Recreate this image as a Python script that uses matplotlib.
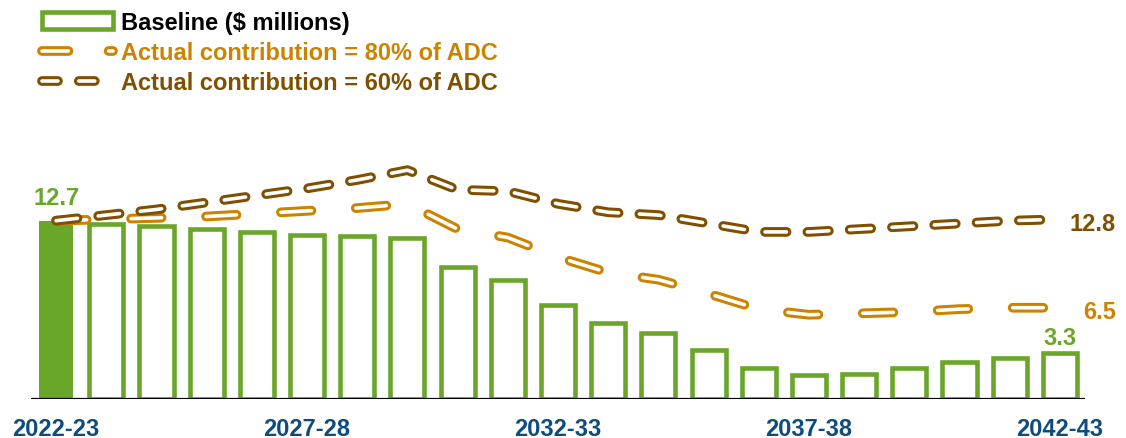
import matplotlib
matplotlib.use("Agg")
import matplotlib.pyplot as plt
from matplotlib.lines import Line2D
from matplotlib.patches import Rectangle

plt.rcParams['lines.scale_dashes'] = False
plt.rcParams['font.family'] = ['Liberation Sans', 'DejaVu Sans']

# ---------------- data ----------------
years = ['2022-23', '2023-24', '2024-25', '2025-26', '2026-27', '2027-28', '2028-29',
         '2029-30', '2030-31', '2031-32', '2032-33', '2033-34', '2034-35', '2035-36',
         '2036-37', '2037-38', '2038-39', '2039-40', '2040-41', '2041-42', '2042-43']
baseline = [12.7, 12.5, 12.3, 12.1, 11.9, 11.7, 11.6, 11.5, 9.4, 8.5, 6.7, 5.4, 4.7,
            3.5, 2.2, 1.7, 1.8, 2.2, 2.6, 2.9, 3.3]
pct80 = [12.7, 12.8, 12.9, 13.0, 13.2, 13.4, 13.6, 13.9, 12.1, 11.5, 10.1, 9.0, 8.5,
         7.5, 6.4, 6.0, 6.1, 6.2, 6.4, 6.5, 6.5]
pct60 = [12.7, 13.1, 13.5, 14.0, 14.5, 15.0, 15.6, 16.3, 14.9, 14.8, 13.9, 13.3, 13.1,
         12.5, 11.9, 11.9, 12.1, 12.3, 12.5, 12.7, 12.8]
tick_years = ['2022-23', '2027-28', '2032-33', '2037-38', '2042-43']
labels = ['Baseline ($ millions)', 'Actual contribution = 80% of ADC',
          'Actual contribution = 60% of ADC']

GREEN = '#6AA629'
ORANGE = '#CC8400'
BROWN = '#7F5000'
BLUE = '#0F4C7E'
FS = 17

W_OUT = 7.0   # outer stroke (pt)
W_IN = 2.6    # inner white stroke (pt)
DASH80 = (0, (22, 32))
DASH60 = (0, (15.5, 15))
LEG_DASH80 = (0, (19, 29))
LEG_DASH60 = (0, (11.5, 15))

fig = plt.figure(figsize=(11.26, 4.39), dpi=100)
ax = fig.add_axes([31 / 1126, 39 / 439, 1054 / 1126, 400 / 439])
ax.set_xlim(-0.5, 20.5)
ax.set_ylim(0, 400 / 14.04)

x = list(range(len(years)))

# bars
for i, v in enumerate(baseline):
    if i == 0:
        ax.bar(i, v, width=0.68, color=GREEN, linewidth=0, zorder=2)
    else:
        ax.bar(i, v, width=0.68, facecolor='white', edgecolor=GREEN,
               linewidth=3.3, zorder=2)

# outlined dashed lines
def outlined(series, color, dash, z):
    ax.plot(x, series, color=color, lw=W_OUT, linestyle=dash,
            dash_capstyle='round', dash_joinstyle='round', zorder=z)
    ax.plot(x, series, color='white', lw=W_IN, linestyle=dash,
            dash_capstyle='round', dash_joinstyle='round', zorder=z + 0.1)

outlined(pct80, ORANGE, DASH80, 4)
outlined(pct60, BROWN, DASH60, 5)

ax.axhline(0, color='black', lw=1.6, zorder=3)

# axes styling
for s in ax.spines.values():
    s.set_visible(False)
ax.set_yticks([])
ax.set_xticks([years.index(t) for t in tick_years])
ax.set_xticklabels(tick_years, fontsize=FS, fontweight='bold', color=BLUE)
ax.tick_params(axis='x', length=0, pad=13)

# value labels
ax.annotate(f'{baseline[0]:.1f}', (0, baseline[0]), xytext=(0, 12),
            textcoords='offset points', ha='center', va='baseline',
            fontsize=FS, fontweight='bold', color=GREEN)
ax.annotate(f'{baseline[-1]:.1f}', (20, baseline[-1]), xytext=(0, 6.5),
            textcoords='offset points', ha='center', va='baseline',
            fontsize=FS, fontweight='bold', color=GREEN)
ax.annotate(f'{pct60[-1]:.1f}', (20, pct60[-1]), xytext=(40.3, -7.4),
            textcoords='offset points', ha='right', va='baseline',
            fontsize=FS, fontweight='bold', color=BROWN)
ax.annotate(f'{pct80[-1]:.1f}', (20, pct80[-1]), xytext=(40.3, -7.2),
            textcoords='offset points', ha='right', va='baseline',
            fontsize=FS, fontweight='bold', color=ORANGE)

# legend
h_base = Rectangle((0, 0), 1, 1, facecolor='white', edgecolor=GREEN, linewidth=3.3)
def leg_line(color, dash):
    a = Line2D([], [], color=color, lw=W_OUT, linestyle=dash, dash_capstyle='round')
    b = Line2D([], [], color='white', lw=W_IN, linestyle=dash, dash_capstyle='round')
    return (a, b)

leg = fig.legend([h_base, leg_line(ORANGE, LEG_DASH80), leg_line(BROWN, LEG_DASH60)], labels,
                 loc='upper left', bbox_to_anchor=(42 / 1126, 1 - 12 / 439),
                 frameon=False, borderpad=0, borderaxespad=0,
                 handlelength=3.0, handleheight=0.7, handletextpad=0.35,
                 labelspacing=0.3,
                 prop={'size': FS, 'weight': 'bold', 'family': ['Liberation Sans', 'DejaVu Sans']},
                 labelcolor=['black', ORANGE, BROWN])

fig.savefig('out.png', dpi=100)
